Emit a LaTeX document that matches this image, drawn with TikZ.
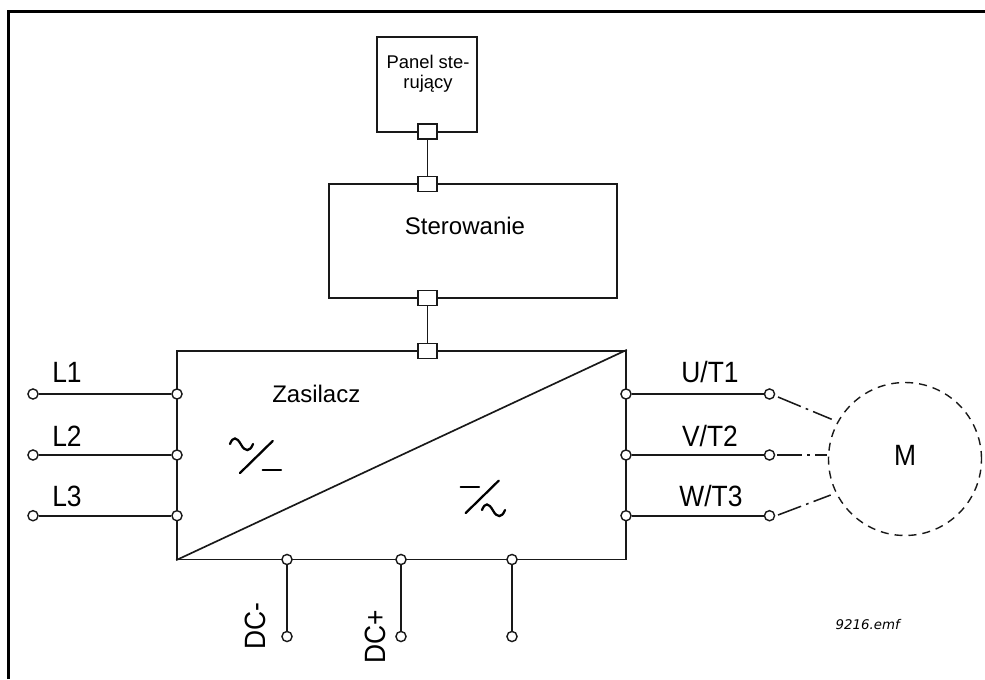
\documentclass[tikz,border=0pt]{standalone}
\usepackage{fontspec}
\setmainfont{Liberation Sans}
\newfontfamily\narrowfont[FakeStretch=0.9]{Liberation Sans}
\newfontfamily\notefont{DejaVu Sans}
\usetikzlibrary{calc}
\tikzset{
  x=0.75pt,y=-0.75pt,
  wire/.style={line width=1.25pt,black!90},
  boxx/.style={draw=black!90,line width=1.25pt,rectangle,inner sep=0pt,fill=white},
  sq/.style={boxx,minimum width=13.8pt,minimum height=11.4pt},
  term/.style={draw=black!90,line width=1.05pt,circle,fill=white,inner sep=0pt,minimum size=7.6pt},
  pin/.style={font=\narrowfont\fontsize{22}{22}\selectfont,inner sep=0pt},
  sym/.style={line width=1.7pt,black,line cap=round},
  dd/.style={line width=1.15pt,black!90,dash pattern=on 18.5pt off 4pt on 2pt off 4pt},
  motor/.style={draw=black!90,line width=1.05pt,dash pattern=on 6pt off 4.5pt,circle,minimum size=114.75pt,inner sep=0pt}
}
\begin{document}
\begin{tikzpicture}
\useasboundingbox (0,0) rectangle (985,679);
\fill[white] (0,0) rectangle (985,679);
\coordinate (fa) at (8.7,679);
\coordinate (fb) at (8.7,11.5);
\coordinate (fc) at (985,11.5);
\draw[line width=2.4pt,black,line join=miter] (fa) -- (fb) -- (fc);

\node[boxx,minimum width=75pt,minimum height=71.25pt] (panel) at (427,84.2) {};
\node[boxx,minimum width=216pt,minimum height=85.5pt] (ster) at (473,241) {};
\node[boxx,minimum width=336.75pt,minimum height=156.5pt] (zas) at (401.5,455) {};
\coordinate (zsw) at (zas.south west);
\coordinate (zne) at (zas.north east);
\draw[wire] (zsw) -- (zne);

\node[font=\fontsize{13.8}{15}\selectfont,align=center,anchor=base,inner sep=0pt] (paneltxt) at (428,88) {Panel ste-\\ruj\k{a}cy};
\node[font=\fontsize{18}{18}\selectfont] (stertxt) at (465,226) {Sterowanie};
\node[font=\fontsize{18}{18}\selectfont,anchor=base west,inner sep=0pt] (zastxt) at (272,402.7) {Zasilacz};

\node[sq] (s1) at (427.5,131.5) {};
\node[sq] (s2) at (427.5,184) {};
\node[sq] (s3) at (427.5,298) {};
\node[sq] (s4) at (427.5,351) {};
\draw[wire] (s1) -- (s2);
\draw[wire] (s3) -- (s4);

% mains side
\foreach \n/\y/\b/\t in {1/394/382.7/L1,2/455/446.7/L2,3/515.7/506.7/L3}{
  \node[term] (li\n) at (33,\y) {};
  \node[term] (zi\n) at (177,\y) {};
  \draw[wire] (li\n) -- (zi\n);
  \node[pin,anchor=base west] (lt\n) at (52,\b) {\t};
}
% motor
\node[motor] (m) at (905,459) {};
\node[pin] (mt) at (905,455.7) {M};
% output side
\node[term] (zo1) at (626,394) {};
\node[term] (zo2) at (626,455) {};
\node[term] (zo3) at (626,515.7) {};
\node[term] (o1) at (769.5,394) {};
\node[term] (o2) at (769.5,455) {};
\node[term] (o3) at (769.5,515.7) {};
\draw[wire] (zo1) -- (o1);
\draw[wire] (zo2) -- (o2);
\draw[wire] (zo3) -- (o3);
\node[pin,anchor=base] (ot1) at (710,382.7) {U/T1};
\node[pin,anchor=base] (ot2) at (710,446.7) {V/T2};
\node[pin,anchor=base] (ot3) at (711,506.7) {W/T3};
\coordinate (ma) at (831.7,419.3);
\coordinate (mb) at (827,455);
\coordinate (mc) at (830.7,495);
\coordinate (oa) at (778,397);
\coordinate (ob) at (777,455);
\coordinate (oc) at (778,515);
\draw[dd] (oa) -- (ma);
\draw[dd] (ob) -- (mb);
\draw[dd] (oc) -- (mc);

% DC side
\foreach \n/\x in {1/287,2/401,3/512}{
  \node[term] (dt\n) at (\x,559.5) {};
  \node[term] (db\n) at (\x,636.5) {};
  \draw[wire] (dt\n) -- (db\n);
}
\node[pin,rotate=90,anchor=base west] (dc1) at (265,650) {DC-};
\node[pin,rotate=90,anchor=base west] (dc2) at (385,664) {DC+};

% rectifier symbols
\draw[sym] (230,444) .. controls (233,436.5) and (236.5,436.5) .. (241,444.5) .. controls (245,452) and (250,452) .. (253,444);
\draw[sym] (240,473) -- (272.7,441);
\draw[sym] (262.7,470) -- (281,470);
\draw[sym] (460.7,487) -- (479,487);
\draw[sym] (465.7,513) -- (498.7,480.7);
\draw[sym] (482,510) .. controls (485,502.5) and (488.5,502.5) .. (493,510.5) .. controls (497,518) and (502,518) .. (505,510);

\node[font=\notefont\itshape\fontsize{10}{10}\selectfont,anchor=base east,inner sep=0pt] (note) at (900,629) {9216.emf};
\end{tikzpicture}
\end{document}
